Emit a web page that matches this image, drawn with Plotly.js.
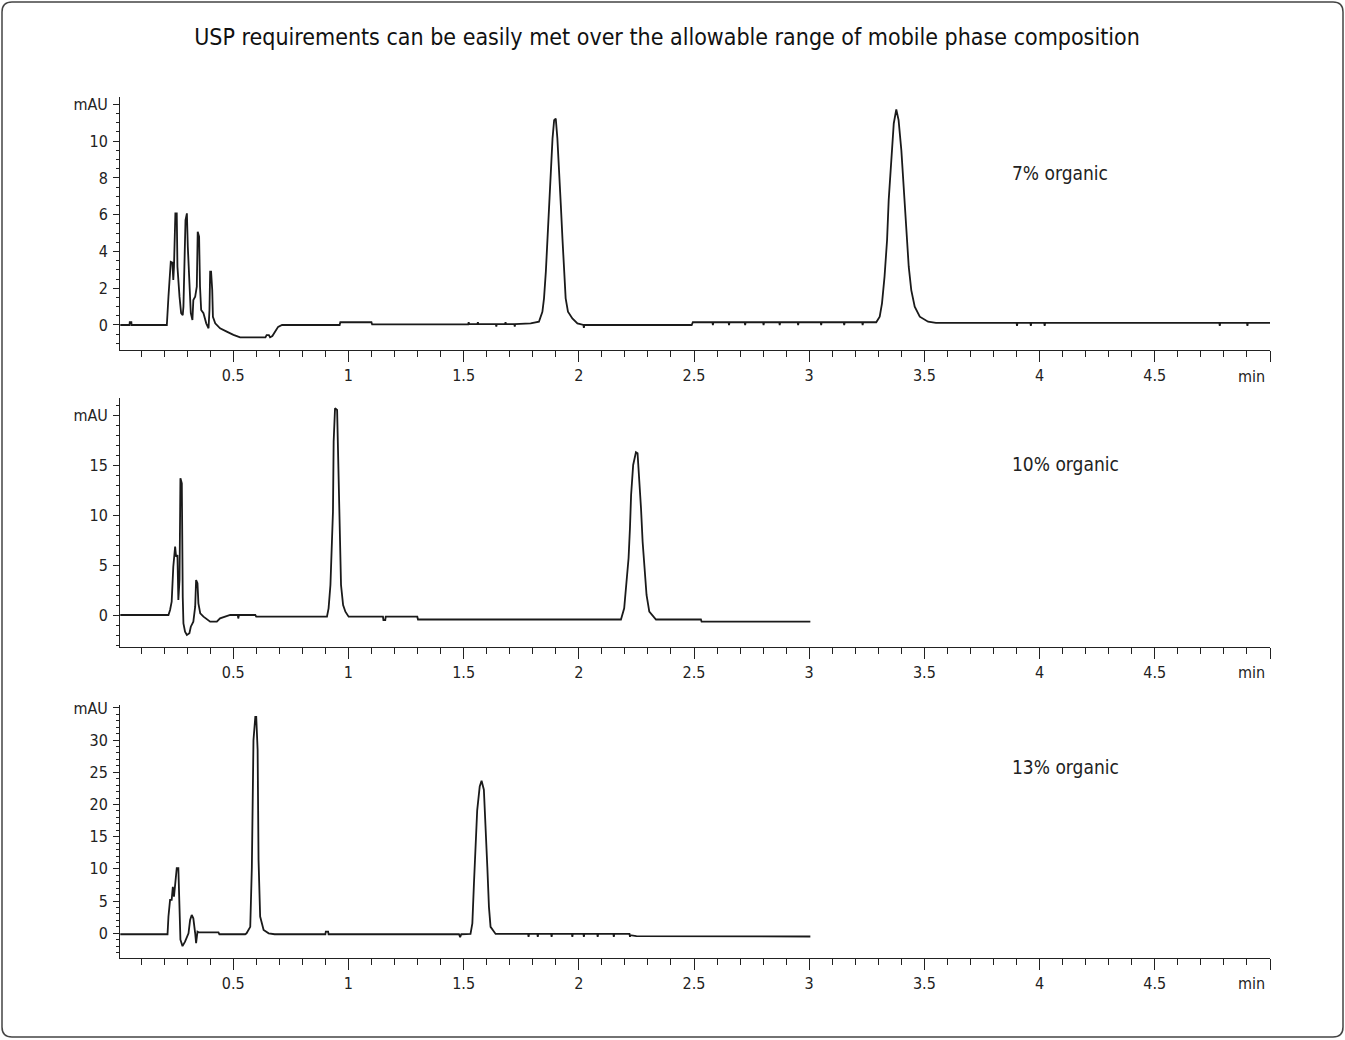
<!DOCTYPE html>
<html>
<head>
<meta charset="utf-8">
<script src="https://cdn.plot.ly/plotly-3.0.1.min.js"></script>
<style>
html,body{margin:0;padding:0;background:#fff;}
#chart{width:1345px;height:1040px;}
</style>
</head>
<body>
<div id="chart"></div>
<script>
// ---- Data (retention time in min, absorbance in mAU) ----
const title = "USP requirements can be easily met over the allowable range of mobile phase composition";
const seriesNames = ["7% organic", "10% organic", "13% organic"];

const t7 = [0.01,0.05,0.051,0.058,0.059,0.212,0.219,0.229,0.236,0.240,0.243,0.249,0.255,0.258,0.267,0.274,0.281,0.284,0.293,0.299,0.303,0.310,0.316,0.323,0.327,0.335,0.342,0.346,0.352,0.356,0.361,0.371,0.383,0.393,0.397,0.400,0.404,0.409,0.412,0.422,0.443,0.472,0.501,0.530,0.640,0.645,0.655,0.660,0.670,0.685,0.695,0.712,0.962,0.965,1.100,1.103,1.520,1.522,1.524,1.560,1.562,1.564,1.640,1.642,1.644,1.680,1.682,1.684,1.720,1.722,1.724,1.791,1.827,1.842,1.849,1.857,1.864,1.871,1.878,1.886,1.893,1.900,1.907,1.914,1.922,1.929,1.936,1.943,1.953,1.972,1.994,2.020,2.022,2.024,2.490,2.495,2.580,2.582,2.584,2.650,2.652,2.654,2.720,2.722,2.724,2.800,2.802,2.804,2.870,2.872,2.874,2.950,2.952,2.954,3.050,3.052,3.054,3.150,3.152,3.154,3.230,3.232,3.234,3.291,3.306,3.316,3.327,3.338,3.345,3.357,3.367,3.378,3.388,3.400,3.410,3.422,3.432,3.443,3.458,3.480,3.516,3.550,3.900,3.902,3.904,3.960,3.962,3.964,4.020,4.022,4.024,4.780,4.782,4.784,4.900,4.902,4.904,5.000];
const y7 = [0,0,0.15,0.15,0,0,1.54,3.44,3.4,2.45,3.17,6.07,6.07,3.17,1.54,0.65,0.54,1.0,5.7,6.07,4.26,2.08,0.64,0.27,1.36,1.54,2.08,5.07,4.8,2.08,0.82,0.64,0.09,-0.18,0.82,2.9,2.9,1.9,0.45,0.09,-0.18,-0.36,-0.54,-0.67,-0.67,-0.55,-0.55,-0.67,-0.6,-0.3,-0.1,0,0,0.15,0.15,0.03,0.03,0.15,0.05,0.05,0.15,0.05,0.05,-0.08,0.05,0.05,0.15,0.05,0.05,-0.08,0.05,0.09,0.18,0.72,1.45,2.9,4.71,6.88,8.7,10.15,11.14,11.23,10.15,8.7,6.52,4.71,2.9,1.45,0.72,0.36,0.09,0,-0.15,0,0,0.15,0.15,0.0,0.15,0.15,0.0,0.15,0.15,0.0,0.15,0.15,0.0,0.15,0.15,0.0,0.15,0.15,0.0,0.15,0.15,0.0,0.15,0.15,0.0,0.15,0.15,0.0,0.15,0.15,0.45,1.18,2.63,4.62,6.79,9.15,10.96,11.72,11.14,9.5,7.34,4.98,3.17,1.9,1.0,0.45,0.18,0.12,0.12,-0.05,0.12,0.12,-0.05,0.12,0.12,-0.05,0.12,0.12,-0.05,0.12,0.12,-0.05,0.12,0.12];

const t10 = [0.01,0.219,0.226,0.233,0.240,0.248,0.252,0.258,0.262,0.267,0.271,0.277,0.281,0.284,0.291,0.299,0.310,0.316,0.327,0.335,0.339,0.345,0.349,0.357,0.371,0.400,0.429,0.443,0.487,0.520,0.522,0.525,0.596,0.600,0.907,0.914,0.922,0.929,0.933,0.936,0.942,0.951,0.955,0.961,0.968,0.977,0.987,1.001,1.150,1.152,1.160,1.162,1.299,1.302,2.183,2.197,2.207,2.216,2.222,2.227,2.236,2.248,2.255,2.262,2.270,2.277,2.284,2.294,2.306,2.335,2.530,2.533,3.005];
const y10 = [0,0,0.5,1.33,4.83,6.83,5.83,6.0,1.5,3.5,13.67,13.17,1.83,-0.83,-1.67,-2.0,-1.83,-1.17,-0.67,0.83,3.5,3.17,1.17,0.17,-0.17,-0.67,-0.67,-0.33,0,0,-0.35,0,0,-0.17,-0.17,0.67,3.0,7.0,10.33,17.33,20.67,20.5,16.0,8.0,3.0,1.0,0.33,-0.17,-0.17,-0.5,-0.5,-0.17,-0.17,-0.45,-0.45,0.67,3.0,5.67,8.67,12.0,15.0,16.27,16.17,14.0,10.67,7.33,4.67,2.0,0.33,-0.45,-0.45,-0.67,-0.67];

const t13 = [0.01,0.215,0.219,0.226,0.233,0.238,0.243,0.248,0.255,0.262,0.267,0.271,0.280,0.291,0.306,0.313,0.320,0.327,0.335,0.339,0.345,0.350,0.436,0.440,0.552,0.558,0.574,0.581,0.588,0.596,0.600,0.606,0.610,0.617,0.632,0.654,0.680,0.900,0.902,0.912,0.914,1.480,1.485,1.490,1.530,1.538,1.545,1.552,1.559,1.570,1.578,1.588,1.596,1.603,1.610,1.617,1.639,1.780,1.782,1.784,1.820,1.822,1.824,1.880,1.882,1.884,1.970,1.972,1.974,2.020,2.022,2.024,2.080,2.082,2.084,2.150,2.152,2.154,2.220,2.222,2.224,2.250,3.005];
const y13 = [-0.15,-0.15,2.6,5.2,5.2,7.2,5.7,7.2,10.1,10.1,4.1,-1.0,-2.0,-1.3,0,2.07,2.84,2.33,0,-1.55,0.25,0.15,0.15,-0.15,-0.15,0,1.0,10.3,30.0,33.6,33.6,28.5,11.4,2.6,0.5,0,-0.15,-0.15,0.25,0.25,-0.15,-0.15,-0.6,-0.15,-0.1,1.55,7.76,13.4,19.1,22.8,23.7,22.3,16.6,10.3,4.1,1.0,-0.1,-0.1,-0.55,-0.1,-0.1,-0.55,-0.1,-0.1,-0.55,-0.1,-0.1,-0.55,-0.1,-0.1,-0.55,-0.1,-0.1,-0.55,-0.1,-0.1,-0.55,-0.1,-0.1,-0.55,-0.3,-0.45,-0.5];

const xTickVals = [0.5,1,1.5,2,2.5,3,3.5,4,4.5,5];
const xTickText = ["0.5","1","1.5","2","2.5","3","3.5","4","4.5",""];
const xUnit = "min";
const y1TickVals = [0,2,4,6,8,10,12];
const y1TickText = ["0","2","4","6","8","10","mAU"];
const y2TickVals = [0,5,10,15,20];
const y2TickText = ["0","5","10","15","mAU"];
const y3TickVals = [0,5,10,15,20,25,30,35];
const y3TickText = ["0","5","10","15","20","25","30","mAU"];

// ---- Layout helpers ----
const W = 1345, H = 1040;
const px = v => v / W;
const py = v => 1 - v / H;
const FONT = "'DejaVu Sans Condensed', 'Liberation Sans Narrow', sans-serif";
const lineStyle = {color: "#1a1a1a", width: 1.8};

const traces = [
  {x: t7, y: y7, xaxis: "x", yaxis: "y", mode: "lines", line: lineStyle, name: seriesNames[0], hoverinfo: "skip"},
  {x: t10, y: y10, xaxis: "x2", yaxis: "y2", mode: "lines", line: lineStyle, name: seriesNames[1], hoverinfo: "skip"},
  {x: t13, y: y13, xaxis: "x3", yaxis: "y3", mode: "lines", line: lineStyle, name: seriesNames[2], hoverinfo: "skip"}
];

function xAxis(anchor) {
  return {
    anchor: anchor, domain: [px(120), px(1270)], range: [0.0087, 5.0],
    showgrid: false, zeroline: false, showline: true, linecolor: "#222", linewidth: 1,
    tickmode: "array", tickvals: xTickVals, ticktext: xTickText,
    ticks: "outside", ticklen: 11, tickcolor: "#222", tickwidth: 1,
    tickfont: {family: FONT, size: 16, color: "#222"},
    minor: {tickmode: "linear", tick0: 0, dtick: 0.1, ticks: "outside", ticklen: 6, tickcolor: "#222", tickwidth: 1, showgrid: false},
    fixedrange: true
  };
}
function yAxis(anchor, top, bottom, range, tv, tt, mdt) {
  return {
    anchor: anchor, domain: [py(bottom), py(top)], range: range,
    showgrid: false, zeroline: false, showline: true, linecolor: "#222", linewidth: 1,
    tickmode: "array", tickvals: tv, ticktext: tt,
    ticks: "outside", ticklen: 6, tickcolor: "#222", tickwidth: 1,
    ticklabelstandoff: 2,
    tickfont: {family: FONT, size: 16, color: "#222"},
    minor: {tickmode: "linear", tick0: 0, dtick: mdt, ticks: "outside", ticklen: 3, tickcolor: "#222", tickwidth: 1, showgrid: false},
    fixedrange: true
  };
}

const r = 10;
const x0 = px(2), x1 = px(1343), yT = py(2), yB = py(1037);
const rx = r / W, ry = r / H;
const borderPath = `M ${x0 + rx} ${yT} L ${x1 - rx} ${yT} Q ${x1} ${yT} ${x1} ${yT - ry} L ${x1} ${yB + ry} Q ${x1} ${yB} ${x1 - rx} ${yB} L ${x0 + rx} ${yB} Q ${x0} ${yB} ${x0} ${yB + ry} L ${x0} ${yT - ry} Q ${x0} ${yT} ${x0 + rx} ${yT} Z`;

const layout = {
  width: W, height: H,
  margin: {l: 0, r: 0, t: 0, b: 0, autoexpand: false},
  paper_bgcolor: "#fff", plot_bgcolor: "rgba(0,0,0,0)",
  showlegend: false,
  title: {text: title, x: px(667), xanchor: "center", y: py(37), yanchor: "middle", font: {family: FONT, size: 23, color: "#111"}},
  xaxis: xAxis("y"), xaxis2: xAxis("y2"), xaxis3: xAxis("y3"),
  yaxis: yAxis("x", 97, 350, [-1.36, 12.4], y1TickVals, y1TickText, 0.5),
  yaxis2: yAxis("x2", 398, 647, [-3.2, 21.7], y2TickVals, y2TickText, 1),
  yaxis3: yAxis("x3", 705, 958, [-3.84, 35.45], y3TickVals, y3TickText, 1),
  shapes: [{type: "path", xref: "paper", yref: "paper", path: borderPath, line: {color: "#444", width: 1.5}, fillcolor: "rgba(0,0,0,0)"}],
  annotations: [
    {text: seriesNames[0], xref: "paper", yref: "paper", x: px(1010), y: py(173), xanchor: "left", yanchor: "middle", showarrow: false, font: {family: FONT, size: 19, color: "#222"}},
    {text: seriesNames[1], xref: "paper", yref: "paper", x: px(1010), y: py(464), xanchor: "left", yanchor: "middle", showarrow: false, font: {family: FONT, size: 19, color: "#222"}},
    {text: seriesNames[2], xref: "paper", yref: "paper", x: px(1010), y: py(767), xanchor: "left", yanchor: "middle", showarrow: false, font: {family: FONT, size: 19, color: "#222"}},
    {text: xUnit, xref: "paper", yref: "paper", x: px(1251), y: py(376), xanchor: "center", yanchor: "middle", showarrow: false, font: {family: FONT, size: 16, color: "#222"}},
    {text: xUnit, xref: "paper", yref: "paper", x: px(1251), y: py(672), xanchor: "center", yanchor: "middle", showarrow: false, font: {family: FONT, size: 16, color: "#222"}},
    {text: xUnit, xref: "paper", yref: "paper", x: px(1251), y: py(983), xanchor: "center", yanchor: "middle", showarrow: false, font: {family: FONT, size: 16, color: "#222"}}
  ]
};

Plotly.newPlot("chart", traces, layout, {staticPlot: true, displayModeBar: false});
</script>
</body>
</html>
